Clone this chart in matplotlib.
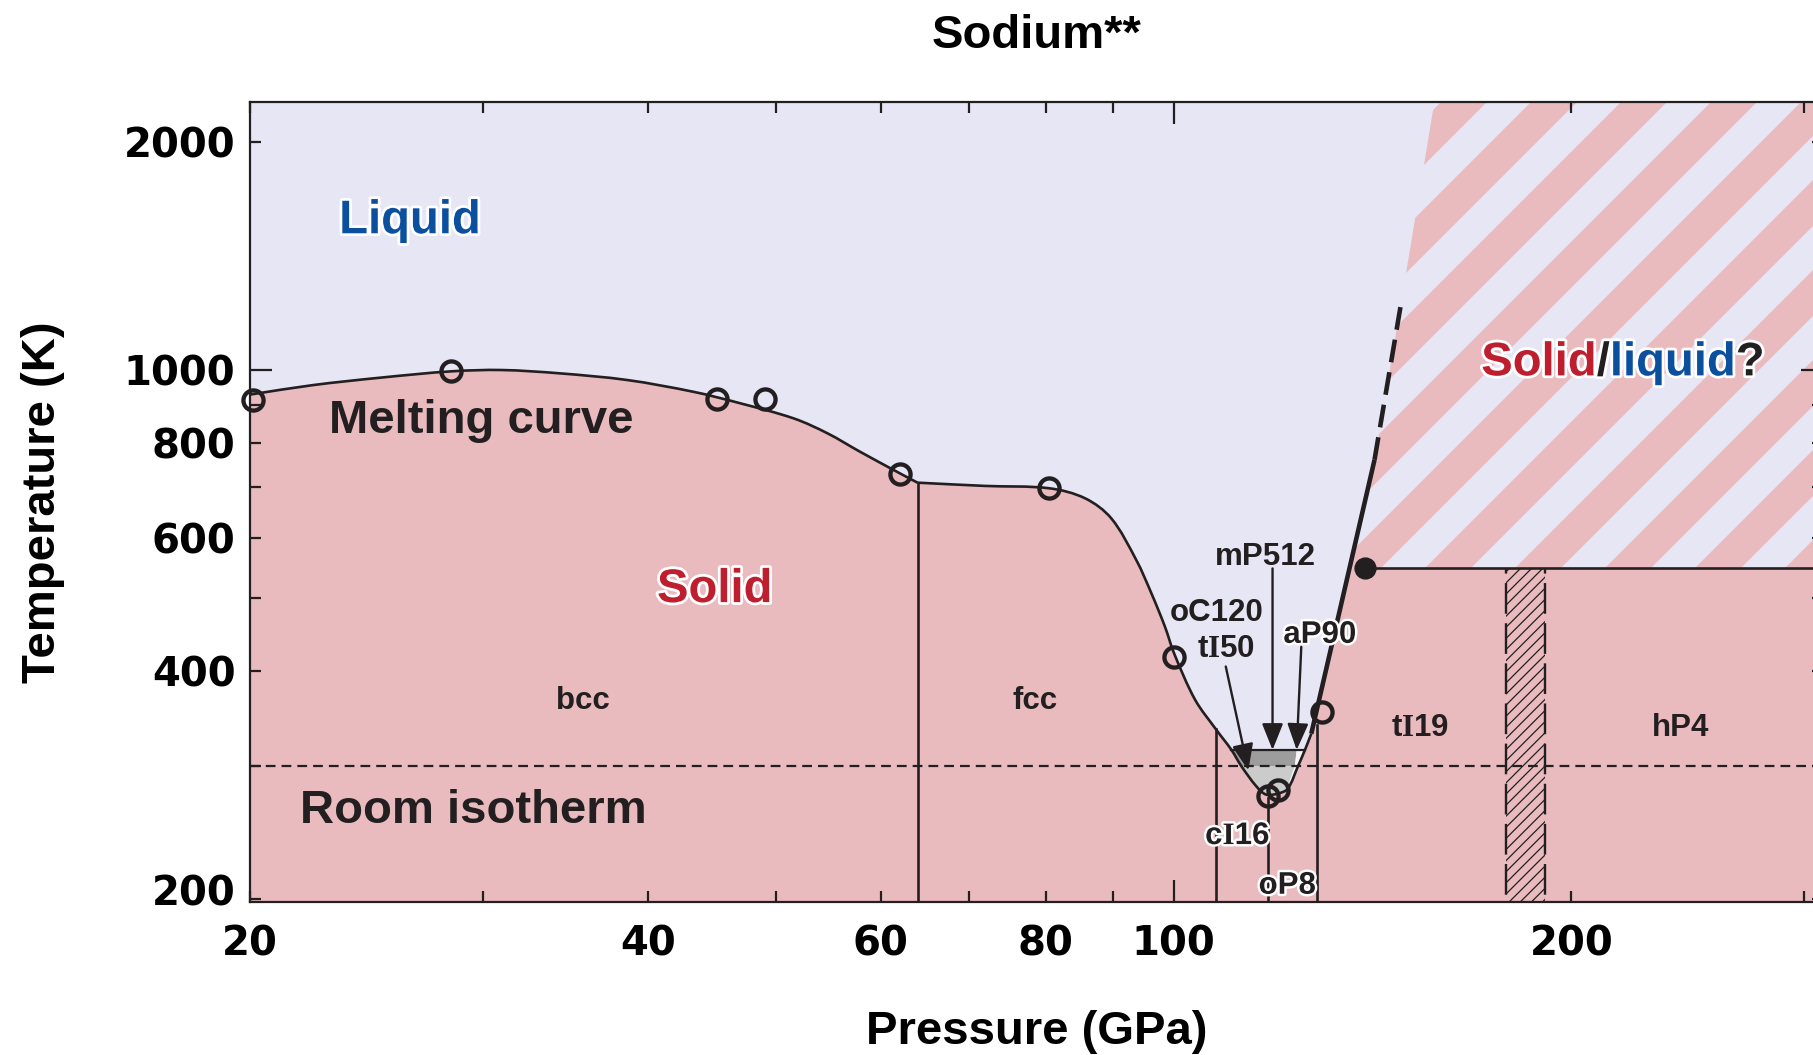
import numpy as np
import matplotlib
matplotlib.use("Agg")
import matplotlib.pyplot as plt
import matplotlib.patheffects as pe
from matplotlib.path import Path
from matplotlib.patches import PathPatch, Polygon
from matplotlib.collections import PatchCollection
from matplotlib.transforms import IdentityTransform, ScaledTranslation
from matplotlib.ticker import FixedLocator, FuncFormatter

plt.rcParams['font.family'] = ['Liberation Sans', 'DejaVu Sans']
plt.rcParams['font.weight'] = 'bold'
plt.rcParams['mathtext.fontset'] = 'custom'
plt.rcParams['mathtext.rm'] = 'Liberation Sans:bold'
plt.rcParams['mathtext.bf'] = 'Liberation Serif:bold'
plt.rcParams['hatch.linewidth'] = 0.9

INK = '#231f20'
LIQ = '#e6e6f5'
SOL = '#e9bbbf'
RED = '#be1e2d'
BLUE = '#0b4f9f'

# ---------------- data (pressure in GPa, temperature in K) ----------------
# melting curve of the bcc phase
bcc_melt_P = [20.0, 22.3, 25.1, 28.4, 31.0, 34.3, 38.6, 43.3, 46.97, 51.6, 54.7, 57.9, 62.1, 64.0]
bcc_melt_T = [928, 955, 977, 996, 1000, 990, 970, 936, 904, 863, 825, 780, 730, 710]
# melting curve of fcc and the low-temperature melting minimum
fcc_melt_P = [64.0, 72.0, 80.5, 85.7, 89.7, 93.7, 96.2, 98.5, 100.1, 103.8, 107.7, 110.6,
              112.5, 115.5, 117.5, 120.0, 122.0, 124.2, 125.7, 127.1]
fcc_melt_T = [710, 703, 698, 677, 637, 561, 507, 458, 422, 367, 335, 315,
              300, 282, 275, 276, 280, 300, 315, 331]
# steep melting line of tI19 (solid part, then dashed extrapolation)
steep_P = [127.1, 141.9]
steep_T = [331, 761]
steep_dash_P = [141.9, 148.8]
steep_dash_T = [761, 1240]
# edge of the uncertain solid/liquid region above the dashed line
uncertain_edge_P = [148.8, 157.5]
uncertain_edge_T = [1240, 2259]

# measured melting points
open_P = [20.1, 28.4, 45.1, 49.1, 62.1, 80.5, 100.1, 117.9, 120.0, 129.5]
open_T = [913, 998, 915, 915, 730, 698, 418, 274, 279, 353]
triple_P = [139.5]
triple_T = [548]

# phase boundaries in the solid
bcc_fcc_P, bcc_fcc_T = 64.0, 710
boundary_P = [107.7, 117.9, 128.4]
boundary_T = [336, 272, 340]
tI19_top_T = 548
hp4_band_P = [178.4, 191.0]
room_T = 300

# small phases inside the melting minimum
gray_dark_P = [110.6, 123.9, 123.5, 112.5]
gray_dark_T = [315, 315, 300, 300]
gray_light_P = [112.5, 123.5, 121.8, 117.5, 115.5]
gray_light_T = [300, 300, 280, 274, 282]
gray_white_P = [123.9, 125.7, 124.2, 122.0, 121.8, 123.5]
gray_white_T = [315, 315, 300, 280, 280, 300]
gray_top_P = [110.6, 125.7]
gray_top_T = [315, 315]

# axes
P_MIN, P_MAX = 20.0, 310.0
T_MIN, T_MAX = 198.4, 2259.0
x_label_ticks = [20, 40, 60, 80, 100, 200]
x_major_ticks = [100]
x_minor_ticks = [20, 30, 40, 50, 60, 70, 80, 90, 200, 300]
y_label_ticks = [200, 400, 600, 800, 1000, 2000]
y_major_ticks = [1000]
y_minor_ticks = [200, 300, 400, 500, 600, 700, 800, 900, 2000]

W, H = 1813, 1055
AX_W, AX_H = 1573, 800
fig = plt.figure(figsize=(W / 100, H / 100), dpi=100)
ax = fig.add_axes([250 / W, 153 / H, AX_W / W, AX_H / H])
ax.set_xscale('log')
ax.set_yscale('log')
ax.set_xlim(P_MIN, P_MAX)
ax.set_ylim(T_MIN, T_MAX)
ax.set_facecolor(LIQ)

# pixel size of one decade on each axis, used to space the spline evenly on screen
DEC_X = AX_W / np.log10(P_MAX / P_MIN)
DEC_Y = AX_H / np.log10(T_MAX / T_MIN)


def smooth_segment(P, T):
    """Chord-length Catmull-Rom curve through the points, as cubic Beziers in log-log space."""
    pts = np.column_stack([np.log10(P) * DEC_X, np.log10(T) * DEC_Y])
    n = len(pts)
    d = np.hypot(*np.diff(pts, axis=0).T)
    t = np.concatenate([[0.0], np.cumsum(d)])
    tang = np.zeros_like(pts)
    tang[0] = (pts[1] - pts[0]) / d[0]
    tang[-1] = (pts[-1] - pts[-2]) / d[-1]
    for i in range(1, n - 1):
        tang[i] = (pts[i + 1] - pts[i - 1]) / (t[i + 1] - t[i - 1])
    verts, codes = [pts[0]], [Path.MOVETO]
    for i in range(n - 1):
        h = d[i]
        verts += [pts[i] + tang[i] * h / 3.0, pts[i + 1] - tang[i + 1] * h / 3.0, pts[i + 1]]
        codes += [Path.CURVE4] * 3
    v = np.array(verts)
    return list(zip(10 ** (v[:, 0] / DEC_X), 10 ** (v[:, 1] / DEC_Y))), codes


v_a, c_a = smooth_segment(bcc_melt_P, bcc_melt_T)
v_b, c_b = smooth_segment(fcc_melt_P, fcc_melt_T)

# where the steep melting line crosses the top of the tI19 field
P_cross = 10 ** np.interp(np.log10(tI19_top_T), np.log10(steep_T), np.log10(steep_P))

# solid region
lo = T_MIN * 0.8
far = P_MAX * 1.5
solid_verts = [(P_MIN * 0.9, lo), (P_MIN * 0.9, bcc_melt_T[0])] + v_a + v_b[1:] + \
    [(P_cross, tI19_top_T), (far, tI19_top_T), (far, lo), (P_MIN * 0.9, lo)]
solid_codes = [Path.MOVETO, Path.LINETO] + [Path.LINETO] + c_a[1:] + c_b[1:] + \
    [Path.LINETO, Path.LINETO, Path.LINETO, Path.CLOSEPOLY]
ax.add_patch(PathPatch(Path(solid_verts, solid_codes), facecolor=SOL, edgecolor='none', zorder=1))

# uncertain solid/liquid region: striped
unc_poly = [(P_cross, tI19_top_T), (steep_P[1], steep_T[1]), (steep_dash_P[1], steep_dash_T[1]),
            (uncertain_edge_P[1], uncertain_edge_T[1]), (far, uncertain_edge_T[1]),
            (far, tI19_top_T)]
unc_patch = Polygon(unc_poly, closed=True, facecolor=LIQ, edgecolor='none', zorder=1.1)
ax.add_patch(unc_patch)
period, pink_w, u0 = 90.0, 46.0, 578.0
stripes = []
for k in range(-12, 30):
    a = u0 + k * period
    b = a + pink_w
    stripes.append(Polygon([(a, 0), (b, 0), (b + H, H), (a + H, H)], closed=True))
stripe_coll = PatchCollection(stripes, facecolor=SOL, edgecolor='none',
                              transform=IdentityTransform(), zorder=1.2)
ax.add_collection(stripe_coll)
stripe_coll.set_clip_path(unc_patch)

# hatched band between tI19 and hP4
band = Polygon([(hp4_band_P[0], lo), (hp4_band_P[1], lo), (hp4_band_P[1], tI19_top_T),
                (hp4_band_P[0], tI19_top_T)], closed=True, facecolor='none',
               edgecolor=INK, linewidth=0, hatch='///', zorder=1.5)
ax.add_patch(band)
for p in hp4_band_P:
    ax.plot([p, p], [lo, tI19_top_T], color=INK, lw=1.7, ls=(0, (13, 4)), zorder=3)

# small phases in the melting minimum
ax.fill(gray_dark_P, gray_dark_T, color='#9d9d9d', lw=0, zorder=1.6)
ax.fill(gray_light_P, gray_light_T, color='#cbcbcb', lw=0, zorder=1.6)
ax.fill(gray_white_P, gray_white_T, color='#f7f7f7', lw=0, zorder=1.6)
ax.plot(gray_top_P, gray_top_T, color=INK, lw=1.6, zorder=3)

# room-temperature isotherm
ax.axhline(room_T, color=INK, lw=1.6, ls=(0, (4.4, 2.7)), zorder=2.5)

# melting curve
LW = 1.9
ax.add_patch(PathPatch(Path(v_a, c_a), facecolor='none', edgecolor=INK, lw=LW, zorder=3))
ax.add_patch(PathPatch(Path(v_b, c_b), facecolor='none', edgecolor=INK, lw=LW, zorder=3))
ax.plot(steep_P, steep_T, color=INK, lw=3.3, solid_capstyle='butt', zorder=3)
ax.plot(steep_dash_P, steep_dash_T, color=INK, lw=3.3, ls=(0, (5.0, 2.2)), zorder=3)

# solid-solid boundaries
ax.plot([bcc_fcc_P, bcc_fcc_P], [lo, bcc_fcc_T], color=INK, lw=LW, zorder=3)
for p, t in zip(boundary_P, boundary_T):
    ax.plot([p, p], [lo, t], color=INK, lw=LW, zorder=3)
ax.plot([triple_P[0], far], [tI19_top_T, tI19_top_T], color=INK, lw=LW, zorder=3)

# data points
ax.plot(open_P, open_T, ls='none', marker='o', ms=14.5, mfc='none', mec=INK, mew=3.1,
        zorder=6, clip_on=False)
ax.plot(triple_P, triple_T, ls='none', marker='o', ms=14.0, mfc=INK, mec=INK, mew=2.0, zorder=6)

# labels
big = 34
small = 22.5
VA = 'center_baseline'
halo = [pe.withStroke(linewidth=4, foreground='white')]
halo_s = [pe.withStroke(linewidth=3.5, foreground='white')]
ax.text(26.43, 1596, 'Liquid', color=BLUE, fontsize=big, ha='center', va=VA, path_effects=halo, zorder=7)
ax.text(29.9, 869, 'Melting curve', color=INK, fontsize=big, ha='center', va=VA, zorder=7)
ax.text(44.95, 520, 'Solid', color=RED, fontsize=big, ha='center', va=VA, path_effects=halo, zorder=7)
ax.text(29.5, 265.7, 'Room isotherm', color=INK, fontsize=big, ha='center', va=VA, zorder=7)
ax.text(35.7, 370, 'bcc', color=INK, fontsize=small, ha='center', va=VA, zorder=7)
ax.text(78.5, 370, 'fcc', color=INK, fontsize=small, ha='center', va=VA, zorder=7)
ax.text(153.6, 340, r't$\mathbf{I}$19', color=INK, fontsize=small, ha='center', va=VA, zorder=7)
ax.text(242.0, 340, 'hP4', color=INK, fontsize=small, ha='center', va=VA, zorder=7)
ax.text(117.3, 571.7, 'mP512', color=INK, fontsize=small, ha='center', va=VA, zorder=7)
ax.text(107.8, 483, 'oC120', color=INK, fontsize=small, ha='center', va=VA, zorder=7)
ax.text(109.6, 433, r't$\mathbf{I}$50', color=INK, fontsize=small, ha='center', va=VA, zorder=7)
ax.text(129.0, 451.8, 'aP90', color=INK, fontsize=small, ha='center', va=VA, path_effects=halo_s, zorder=7)
ax.text(111.8, 245, r'c$\mathbf{I}$16', color=INK, fontsize=small, ha='center', va=VA, path_effects=halo_s, zorder=7)
ax.text(121.9, 210.7, 'oP8', color=INK, fontsize=small, ha='center', va=VA, path_effects=halo_s, zorder=7)

t1 = ax.text(170.9, 1036, 'Solid', color=RED, fontsize=big, ha='left', va=VA, path_effects=halo, zorder=7)
t2 = ax.annotate('/', xy=(1, 0), xycoords=t1, color=INK, fontsize=big, ha='left', va='bottom', path_effects=halo, zorder=7)
t3 = ax.annotate('liquid', xy=(1, 0), xycoords=t2, color=BLUE, fontsize=big, ha='left', va='bottom', path_effects=halo, zorder=7)
ax.annotate('?', xy=(1, 0), xycoords=t3, color=INK, fontsize=big, ha='left', va='bottom', path_effects=halo, zorder=7)

# arrows to the small phases
arrow_kw = dict(arrowstyle='-|>,head_length=0.6,head_width=0.24', color=INK, lw=1.7,
                mutation_scale=27, shrinkA=0, shrinkB=0)
ax.annotate('', xy=(113.9, 296), xytext=(109.5, 406), arrowprops=arrow_kw, zorder=7)
ax.annotate('', xy=(118.8, 315), xytext=(118.8, 547), arrowprops=arrow_kw, zorder=7)
ax.annotate('', xy=(123.9, 315), xytext=(124.9, 431), arrowprops=arrow_kw, zorder=7)

# ticks and spines
ax.xaxis.set_major_locator(FixedLocator(x_major_ticks))
ax.xaxis.set_minor_locator(FixedLocator(x_minor_ticks))
ax.yaxis.set_major_locator(FixedLocator(y_major_ticks))
ax.yaxis.set_minor_locator(FixedLocator(y_minor_ticks))
fmt_x = FuncFormatter(lambda v, pos: f'{v:.0f}' if int(round(v)) in x_label_ticks else '')
fmt_y = FuncFormatter(lambda v, pos: f'{v:.0f}' if int(round(v)) in y_label_ticks else '')
ax.xaxis.set_major_formatter(fmt_x)
ax.xaxis.set_minor_formatter(fmt_x)
ax.yaxis.set_major_formatter(fmt_y)
ax.yaxis.set_minor_formatter(fmt_y)
ax.tick_params(which='both', direction='in', top=True, right=True, width=1.6,
               color=INK, labelsize=29, labelcolor='black', labelfontfamily='DejaVu Sans')
ax.tick_params(which='major', length=16)
ax.tick_params(which='minor', length=8)
ax.tick_params(axis='x', which='both', pad=16)
ax.tick_params(axis='y', which='both', pad=10.5)
for s in ax.spines.values():
    s.set_linewidth(1.6)
    s.set_color(INK)
    s.set_zorder(8)

# lift the lowest temperature label clear of the corner
low_tick = ax.yaxis.get_minor_ticks(len(y_minor_ticks))[0]
low_tick.label1.set_transform(low_tick.label1.get_transform()
                              + ScaledTranslation(0, 0.09, fig.dpi_scale_trans))

fig.text(1036.6 / W, 1 - 48 / H, 'Sodium**', fontsize=34, ha='center', va='baseline', color='black')
fig.text(1036.6 / W, 1 - 1044 / H, 'Pressure (GPa)', fontsize=34, ha='center', va='baseline', color='black')
fig.text(43 / W, 1 - 502 / H, 'Temperature (K)', fontsize=34, ha='center', va='center',
         rotation=90, color='black')

fig.savefig('out.png', dpi=100)
